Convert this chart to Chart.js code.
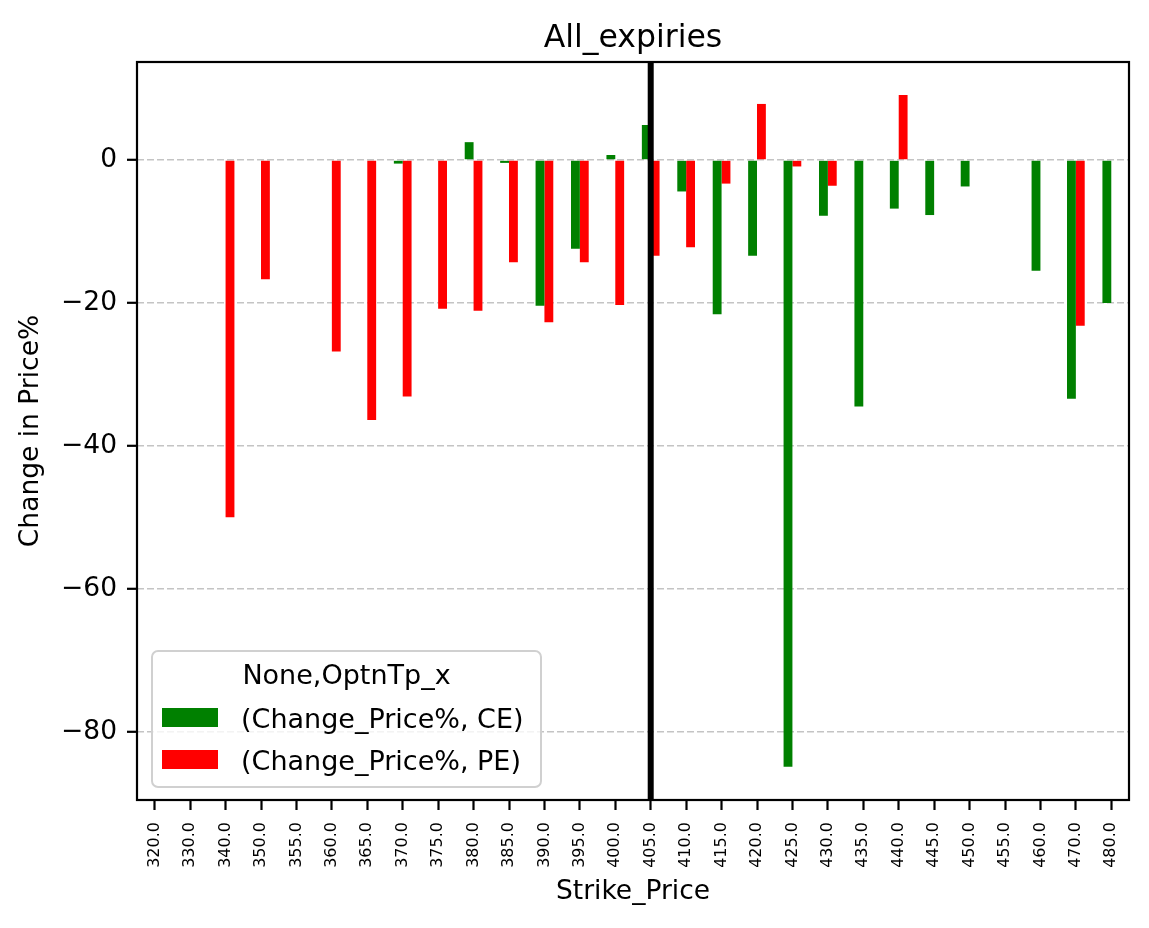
<!DOCTYPE html>
<html>
<head>
<meta charset="utf-8">
<script src="https://cdn.jsdelivr.net/npm/chart.js@4.4.0/dist/chart.umd.min.js"></script>
<style>
  body { margin: 0; background: #fff; }
  canvas { display: block; }
</style>
</head>
<body>
<canvas id="chart" width="1149" height="928"></canvas>
<script>
const strikes = ['320.0', '330.0', '340.0', '350.0', '355.0', '360.0', '365.0', '370.0', '375.0', '380.0',
                 '385.0', '390.0', '395.0', '400.0', '405.0', '410.0', '415.0', '420.0', '425.0', '430.0',
                 '435.0', '440.0', '445.0', '450.0', '455.0', '460.0', '470.0', '480.0'];

// (Change_Price%, CE)
const ceValues = [null, null, null, null, null, null, null, -0.5, null, 2.5,
                  -0.4, -20.4, -12.4, 0.7, 4.9, -4.4, -21.6, -13.4, -84.9, -7.8,
                  -34.5, -6.8, -7.7, -3.7, null, -15.5, -33.4, -20.0];

// (Change_Price%, PE)
const peValues = [null, null, -50.0, -16.7, null, -26.8, -36.4, -33.1, -20.8, -21.1,
                  -14.3, -22.7, -14.3, -20.3, -13.4, -12.2, -3.3, 7.85, -0.9, -3.6,
                  null, 9.1, null, null, null, null, -23.2, null];

const yTicks = [-80, -60, -40, -20, 0];
const yMin = -89.57;
const yMax = 13.72;
const markedStrike = '405.0';

const chartTitle = 'All_expiries';
const legendTitle = 'None,OptnTp_x';
const FONT = '"DejaVu Sans", sans-serif';

// title, frame, vertical marker line and the in-plot legend
const extras = {
    id: 'extras',
    afterDatasetsDraw(chart) {
        const { ctx, chartArea } = chart;
        const x = chart.scales.x.getPixelForValue(strikes.indexOf(markedStrike));
        ctx.save();
        ctx.strokeStyle = '#000';
        ctx.lineWidth = 6;
        ctx.beginPath();
        ctx.moveTo(x, chartArea.top);
        ctx.lineTo(x, chartArea.bottom);
        ctx.stroke();
        ctx.restore();
    },
    afterDraw(chart) {
        const { ctx, chartArea } = chart;
        ctx.save();
        ctx.strokeStyle = '#000';
        ctx.lineWidth = 2.2;
        ctx.strokeRect(chartArea.left, chartArea.top,
                       chartArea.right - chartArea.left, chartArea.bottom - chartArea.top);

        ctx.fillStyle = '#000';
        ctx.font = '31.5px ' + FONT;
        ctx.textAlign = 'center';
        ctx.textBaseline = 'alphabetic';
        ctx.fillText(chartTitle, (chartArea.left + chartArea.right) / 2, 47);

        // legend box
        const bx = 152, by = 651, bw = 389, bh = 136, r = 6;
        ctx.beginPath();
        ctx.roundRect(bx, by, bw, bh, r);
        ctx.fillStyle = 'rgba(255,255,255,0.8)';
        ctx.fill();
        ctx.strokeStyle = '#d0d0d0';
        ctx.lineWidth = 2;
        ctx.stroke();

        ctx.font = '27px ' + FONT;
        ctx.fillStyle = '#000';
        ctx.textAlign = 'center';
        ctx.fillText(legendTitle, bx + bw / 2, 684);

        ctx.textAlign = 'left';
        const rows = [708, 750];
        chart.data.datasets.forEach((ds, i) => {
            ctx.fillStyle = ds.backgroundColor;
            ctx.fillRect(162, rows[i], 56, 19);
            ctx.fillStyle = '#000';
            ctx.fillText(ds.label, 241, rows[i] + 20);
        });
        ctx.restore();
    }
};

new Chart(document.getElementById('chart'), {
    type: 'bar',
    data: {
        labels: strikes,
        datasets: [
            { label: '(Change_Price%, CE)', data: ceValues, backgroundColor: '#008000' },
            { label: '(Change_Price%, PE)', data: peValues, backgroundColor: '#ff0000' }
        ]
    },
    options: {
        responsive: false,
        animation: false,
        devicePixelRatio: 1,
        layout: { padding: { left: 0, right: 20, top: 62, bottom: 0 } },
        datasets: { bar: { categoryPercentage: 0.5, barPercentage: 1.0 } },
        plugins: {
            legend: { display: false },
            tooltip: { enabled: false },
            title: { display: false }
        },
        scales: {
            x: {
                grid: { display: true, offset: false, drawOnChartArea: false, drawTicks: true,
                        tickLength: 10, tickColor: '#000', tickWidth: 2.2 },
                border: { display: false },
                ticks: { autoSkip: false, minRotation: 90, maxRotation: 90, padding: 12,
                         color: '#000', font: { family: FONT, size: 16 } },
                title: { display: true, text: 'Strike_Price', color: '#000',
                         font: { family: FONT, size: 26.5 }, padding: { top: 4, bottom: 20 } },
                afterFit(scale) { scale.height = 128; }
            },
            y: {
                min: yMin,
                max: yMax,
                afterBuildTicks(scale) { scale.ticks = yTicks.map(v => ({ value: v })); },
                grid: { color: '#c4c4c4', lineWidth: 1.6,
                        tickLength: 10, tickColor: '#000', tickWidth: 2.2, tickBorderDash: [] },
                border: { display: false, dash: [7, 3] },
                ticks: {
                    padding: 10, color: '#000', font: { family: FONT, size: 26.5 },
                    callback: v => (v < 0 ? '\u2212' + Math.abs(v) : String(v))
                },
                title: { display: true, text: 'Change in Price%', color: '#000',
                         font: { family: FONT, size: 26.5 }, padding: { top: 15, bottom: 0 } },
                afterFit(scale) { scale.width = 137; }
            }
        }
    },
    plugins: [extras]
});
</script>
</body>
</html>
